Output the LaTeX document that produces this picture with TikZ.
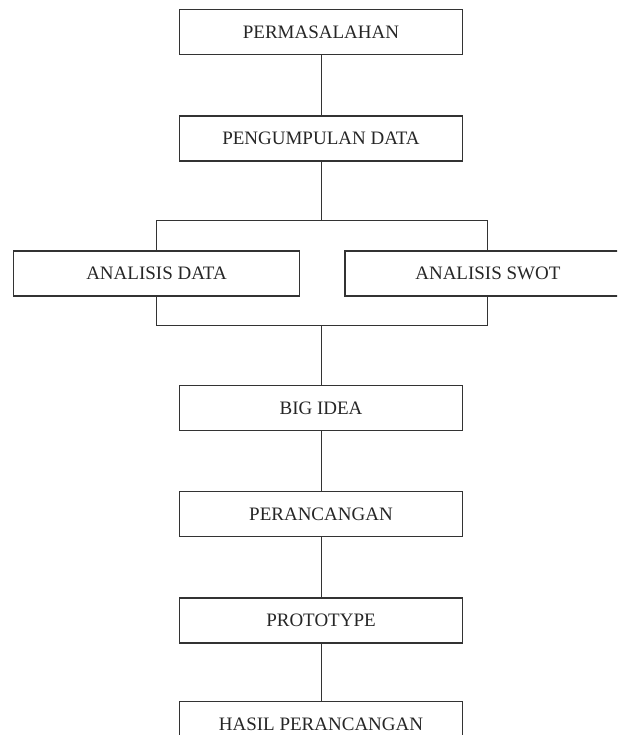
\documentclass[tikz,border=0pt]{standalone}
\usepackage{fontspec}
\setmainfont{Liberation Serif}
\usetikzlibrary{positioning}
\begin{document}
\begin{tikzpicture}[
          flow-box/.style = {draw=black!80, line width=0.7pt, rectangle, text centered, minimum width=141.5pt, minimum height=22.5pt, inner sep=0pt, font=\fontsize{9.5}{11}\selectfont, text=black!85},
          wide-box/.style = {flow-box, minimum width=143pt},
          flow-line/.style = {draw=black!80, line width=0.5pt},
          node distance = 30pt
        ]
          \path[use as bounding box, clip] (0,0) rectangle (308.5pt,-367.5pt);

          \node[flow-box] (masalah) at (160.5pt,-16pt) {PERMASALAHAN};
          \node[flow-box,below=of masalah] (data) {PENGUMPULAN DATA};
          \node[wide-box,below=44.25pt of data,xshift=-82.25pt] (analisis) {ANALISIS DATA};
          \node[wide-box,right=22pt of analisis] (swot) {ANALISIS SWOT};
          \node[flow-box,below=111.5pt of data] (idea) {BIG IDEA};
          \node[flow-box,below=of idea] (rancang) {PERANCANGAN};
          \node[flow-box,below=of rancang] (proto) {PROTOTYPE};
          \node[flow-box,below=28.5pt of proto] (hasil) {HASIL PERANCANGAN};

          \coordinate[below=29.5pt of data] (atas);
          \coordinate[above=29.5pt of idea] (bawah);

          \draw[flow-line] (masalah) -- (data);
          \draw[flow-line] (data) -- (atas);
          \draw[flow-line] (analisis.north) |- (atas) -| (swot.north);
          \draw[flow-line] (analisis.south) |- (bawah) -| (swot.south);
          \draw[flow-line] (bawah) -- (idea);
          \draw[flow-line] (idea) -- (rancang);
          \draw[flow-line] (rancang) -- (proto);
          \draw[flow-line] (proto) -- (hasil);
        \end{tikzpicture}
\end{document}
